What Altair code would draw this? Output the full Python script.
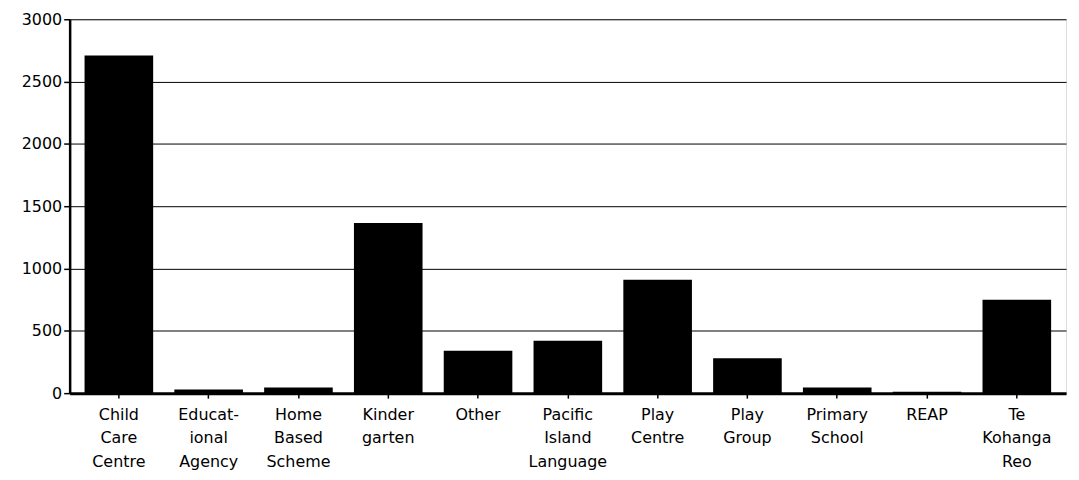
import altair as alt
import pandas as pd

categories = [
    "Child|Care|Centre",
    "Educat-|ional|Agency",
    "Home|Based|Scheme",
    "Kinder|garten",
    "Other",
    "Pacific|Island|Language",
    "Play|Centre",
    "Play|Group",
    "Primary|School",
    "REAP",
    "Te|Kohanga|Reo",
]
values = [2710, 30, 45, 1365, 340, 420, 910, 280, 45, 12, 750]

df = pd.DataFrame({"category": categories, "value": values})

FONT = "DejaVu Sans"

chart = (
    alt.Chart(df)
    .mark_bar(color="black")
    .encode(
        x=alt.X(
            "category:N",
            sort=None,
            title=None,
            scale=alt.Scale(paddingInner=0.236, paddingOuter=0.166),
            axis=alt.Axis(
                labelAngle=0,
                labelExpr="split(datum.label, '|')",
                labelLineHeight=24,
                labelBaseline="top",
                labelPadding=8,
                labelFontSize=16,
                labelFont=FONT,
                labelColor="black",
                tickColor="black",
                tickSize=5,
                tickWidth=1.5,
                domainColor="black",
                domainWidth=3,
                grid=False,
            ),
        ),
        y=alt.Y(
            "value:Q",
            title=None,
            scale=alt.Scale(domain=[0, 3000], nice=False),
            axis=alt.Axis(
                values=[0, 500, 1000, 1500, 2000, 2500, 3000],
                format="d",
                labelFontSize=16,
                labelFont=FONT,
                labelColor="black",
                labelPadding=2,
                tickColor="black",
                tickSize=6,
                tickWidth=1.5,
                domainColor="black",
                domainWidth=2.5,
                grid=True,
                gridColor="black",
                gridWidth=1,
                gridOpacity=1,
            ),
        ),
    )
    .properties(
        width=1002,
        height=376,
        autosize=alt.AutoSizeParams(type="none"),
        padding={"left": 62, "top": 10, "right": 5, "bottom": 84},
    )
    .configure_view(stroke="black", strokeWidth=3)
    .configure(background="white")
)

chart.save("out.html", embed_options={"renderer": "svg", "actions": False})
